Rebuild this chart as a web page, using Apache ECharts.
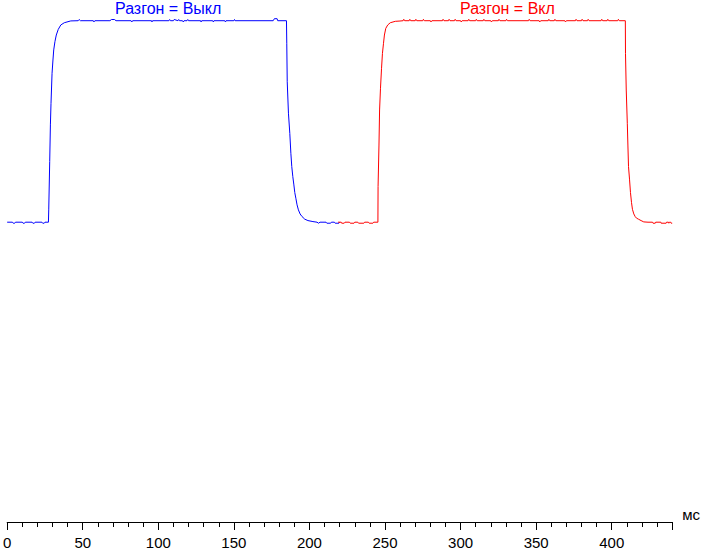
<!DOCTYPE html>
<html>
<head>
<meta charset="utf-8">
<script src="https://cdn.jsdelivr.net/npm/echarts@6/dist/echarts.min.js"></script>
<style>
html,body{margin:0;padding:0;background:#fff;}
#c{width:703px;height:550px;}
</style>
</head>
<body>
<div id="c"></div>
<script>
// x-axis ticks (ms)
var xTicks = [0, 50, 100, 150, 200, 250, 300, 350, 400];
var axisName = 'мс';
var seriesNames = ['Разгон = Выкл', 'Разгон = Вкл'];

// Blue series: Разгон = Выкл  (time in ms, level in % of full swing)
var blueMs = [0, 3.5, 4, 5, 5.5, 10, 10.5, 11.5, 12, 16.5, 17, 18, 18.5, 23, 23.5, 24.5, 25, 27.3,
  27.5, 28.15, 28.6, 29.0, 29.7, 30.3, 30.8, 31.6, 32.5, 33.8, 35.5, 37.8, 42.1,
  47, 47.6, 48.5, 57, 57.4, 58, 68, 69, 71, 72, 82, 82.5, 83, 95.5, 95.8, 96.2,
  107, 107.5, 108, 110, 110.5, 113, 113.5, 114, 116, 116.5, 117, 119, 119.5, 120,
  128, 128.3, 128.7, 136, 136.4, 136.8, 144, 144.4, 144.8, 150, 150.4, 150.8,
  176, 176.8, 178.6, 179, 184.8,
  185.0, 185.3, 186.1, 187.0, 187.7, 188.3, 189.0, 189.7, 190.3, 191.0, 191.8, 192.7, 193.8, 195.1, 196.9, 199.0, 202.3,
  205, 206, 207, 211, 211.5, 214, 214.5, 216.5, 217, 219.5, 220];
var blueLevel = [0, 0, -0.5, -0.5, 0, 0, -0.5, -0.5, 0, 0, -0.5, -0.5, 0, 0, -0.5, -0.5, 0, 0,
  6.1, 30.1, 48.3, 59.0, 73.9, 80.5, 85.5, 89.6, 92.9, 95.7, 97.9, 99.0, 99.9,
  100, 100.6, 100, 100, 99.4, 100, 100, 100.6, 100.6, 100, 100, 99.4, 100, 100, 99.4, 100,
  100, 100.6, 100, 100, 100.6, 100, 100.6, 100, 100, 99.4, 100, 100, 100.6, 100,
  100, 99.4, 100, 100, 99.4, 100, 100, 99.4, 100, 100, 100.6, 100,
  100, 101, 101, 100, 100,
  88.8, 69.7, 54.1, 44.1, 34.2, 27.6, 22.6, 18.5, 14.7, 11.9, 8.6, 6.1, 4.1, 2.8, 1.5, 0.8, 0.3,
  0, -0.5, 0, 0, -0.5, -0.5, 0, 0, -0.5, -0.5, 0];

// Red series: Разгон = Вкл
var redMs = [218.9, 221, 221.3, 223, 223.5, 226.5, 227, 229.5, 230, 232, 232.5, 236, 236.5, 239, 239.5, 242, 242.5, 245.3,
  245.4, 246.0, 246.4, 247.0, 247.7, 248.3, 249.0, 249.6, 250.5, 251.8, 253.5, 256.8, 259.9,
  262, 262.4, 263, 266, 266.4, 267, 270, 270.4, 271, 275, 275.4, 276, 280, 280.4, 281,
  288, 288.4, 289, 292, 292.4, 293, 296, 296.4, 297, 300, 300.4, 301, 305, 305.4, 306,
  310, 310.4, 311, 315, 315.4, 316, 320, 320.4, 321, 325, 325.4, 326, 330, 330.4, 331,
  345, 345.4, 346, 352, 352.4, 353, 358, 358.4, 359, 362, 362.4, 363, 369, 369.4, 370,
  376, 376.4, 377, 380, 380.4, 381, 384, 384.4, 385, 393, 393.4, 394, 397, 397.4, 398, 404, 404.4, 405, 409.0,
  409.1, 409.6, 410.3, 410.7, 411.1, 411.8, 412.4, 413.1, 413.7, 414.6, 415.5, 416.4, 417.7, 419.4, 421.2,
  424, 427, 427.3, 428.8, 429.1, 432.5, 432.7, 436, 436.3, 437.5, 437.8, 438.2, 439, 439.3, 440];
var redLevel = [0, 0, -0.5, -0.5, 0, 0, -0.5, -0.5, 0, 0, -0.5, -0.5, 0, 0, -0.5, -0.5, 0, 0,
  17.7, 38.3, 55.7, 66.5, 76.4, 83.8, 88.8, 92.9, 96.2, 97.9, 99.0, 99.7, 99.85,
  100, 100.7, 100, 100, 100.7, 100, 100, 100.7, 100, 100, 100.7, 100, 100, 99.4, 100,
  100, 100.7, 100, 100, 100.7, 100, 100, 100.7, 100, 100, 99.4, 100, 100, 100.7, 100,
  100, 100.7, 100, 100, 100.7, 100, 100, 99.4, 100, 100, 100.7, 100, 100, 100.7, 100,
  100, 100.7, 100, 100, 99.4, 100, 100, 100.7, 100, 100, 100.7, 100, 100, 99.4, 100,
  100, 100.7, 100, 100, 100.7, 100, 100, 100.7, 100, 100, 100.7, 100, 100, 100.7, 100, 100, 100.7, 100, 100,
  83.8, 65.6, 49.1, 38.3, 27.6, 21.0, 14.7, 9.7, 6.4, 4.1, 2.8, 2.0, 1.5, 0.8, 0.15,
  0, 0, -0.5, -0.5, 0, 0, -0.5, -0.5, 0, 0, -0.5, 0, 0, -0.5, -0.5];

function pairs(xs, ys) {
  var out = [];
  for (var i = 0; i < xs.length; i++) out.push([xs[i], ys[i]]);
  return out;
}

var chart = echarts.init(document.getElementById('c'), null, {renderer: 'svg'});
var font = '"Liberation Sans", Arial, sans-serif';
chart.setOption({
  animation: false,
  backgroundColor: '#ffffff',
  grid: {left: 4, right: 27, top: 18.7, bottom: 27.7, containLabel: false},
  xAxis: {
    type: 'value',
    min: xTicks[0],
    max: 440,
    interval: 50,
    name: axisName,
    nameLocation: 'end',
    nameGap: 10,
    nameTextStyle: {color: '#000', fontSize: 15, fontWeight: 'normal', fontFamily: font, verticalAlign: 'bottom', align: 'left'},
    axisLine: {show: true, onZero: false, lineStyle: {color: '#000', width: 1}},
    axisTick: {show: true, length: 8, lineStyle: {color: '#000', width: 1}},
    minorTick: {show: true, splitNumber: 5, length: 5, lineStyle: {color: '#000', width: 1}},
    splitLine: {show: false},
    minorSplitLine: {show: false},
    axisLabel: {
      color: '#000', fontSize: 15, fontFamily: font, margin: 13,
      showMinLabel: true, showMaxLabel: false,
      formatter: function (v) { return xTicks.indexOf(v) >= 0 ? String(v) : ''; }
    }
  },
  yAxis: {
    type: 'value', min: -148.8, max: 101, show: false,
    splitLine: {show: false}
  },
  series: [
    {name: seriesNames[0], type: 'line', data: pairs(blueMs, blueLevel), showSymbol: false, symbol: 'none',
     lineStyle: {color: '#0000ff', width: 1}, itemStyle: {color: '#0000ff'}, clip: false},
    {name: seriesNames[1], type: 'line', data: pairs(redMs, redLevel), showSymbol: false, symbol: 'none',
     lineStyle: {color: '#ff0000', width: 1}, itemStyle: {color: '#ff0000'}, clip: false}
  ],
  graphic: [
    {type: 'text', left: 115, top: 0, style: {text: seriesNames[0], fill: '#0000ff', font: '16px ' + font}},
    {type: 'text', left: 460, top: 0, style: {text: seriesNames[1], fill: '#ff0000', font: '16px ' + font}}
  ]
});
</script>
</body>
</html>
